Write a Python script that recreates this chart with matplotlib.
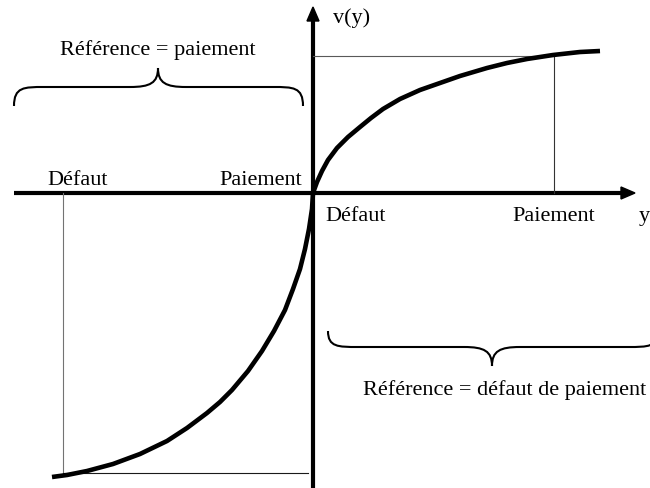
import numpy as np
import matplotlib.pyplot as plt
from matplotlib.path import Path
from matplotlib.patches import PathPatch, Polygon

plt.rcParams['font.family'] = ['Liberation Serif', 'DejaVu Serif']

courbe_y = [-261, -246, -226, -200, -173, -146, -126, -106, -93, -81, -65, -51,
            -39, -28, -20, -13, -8, -4, -1, 0,
            4, 9, 15, 24, 35, 47, 58, 70, 87, 107, 127, 147, 174, 194, 214,
            240, 267, 287]
courbe_v = [-284, -282, -278, -271, -261, -248, -235, -220, -209, -197, -178, -158,
            -138, -117, -96, -76, -56, -36, -16, 0,
            11, 22, 33, 45, 56, 66, 75, 84, 94, 103, 110, 117, 125, 130, 134,
            138, 141, 142]

# points de reference (paiement / defaut)
paiement_y, paiement_v = 241, 137
defaut_y, defaut_v = -250, -280

etiquettes_haut = ['Défaut', 'Paiement']
etiquettes_bas = ['Défaut', 'Paiement']
accolades = ['Référence = paiement', 'Référence = défaut de paiement']

fig = plt.figure(figsize=(6.5, 4.89), dpi=100)
ax = fig.add_axes([0, 0, 1, 1])
ax.set_xlim(-313, 337)
ax.set_ylim(-295, 194)
ax.axis('off')

# axes avec fleches
ax.plot([-299, 310], [0, 0], color='black', lw=3, solid_capstyle='butt')
ax.add_patch(Polygon([[322, 0], [308, 6], [308, -6]], closed=True, color='black'))
ax.plot([0, 0], [-295, 174], color='black', lw=3, solid_capstyle='butt')
ax.add_patch(Polygon([[0, 186], [-6, 172], [6, 172]], closed=True, color='black'))

# lignes fines
ax.plot([0, paiement_y], [paiement_v, paiement_v], color='0.35', lw=0.8)
ax.plot([paiement_y, paiement_y], [0, paiement_v], color='0.2', lw=0.8)
ax.plot([defaut_y, defaut_y], [0, defaut_v], color='0.45', lw=0.8)
ax.plot([defaut_y, -5], [defaut_v, defaut_v], color='0.1', lw=0.8)

# courbe v(y)
ax.plot(courbe_y, courbe_v, color='black', lw=3.3, solid_capstyle='butt',
        solid_joinstyle='round')


def accolade(x0, x1, xc, bras, milieu, pointe):
    s = 1 if pointe > milieu else -1
    verts = [(x0, bras), (x0, milieu), (x0 + 10, milieu), (x0 + 30, milieu),
             (xc - 28, milieu),
             (xc - 8, milieu), (xc, milieu + s * 4), (xc, pointe),
             (xc, milieu + s * 4), (xc + 8, milieu), (xc + 28, milieu),
             (x1 - 30, milieu),
             (x1 - 10, milieu), (x1, milieu), (x1, bras)]
    codes = [Path.MOVETO, Path.CURVE4, Path.CURVE4, Path.CURVE4,
             Path.LINETO,
             Path.CURVE4, Path.CURVE4, Path.CURVE4,
             Path.CURVE4, Path.CURVE4, Path.CURVE4,
             Path.LINETO,
             Path.CURVE4, Path.CURVE4, Path.CURVE4]
    ax.add_patch(PathPatch(Path(verts, codes), fill=False, lw=1.5, color='black'))


accolade(-299, -10, -155, 87, 106, 125)
accolade(15, 345, 179, -138, -154, -173)

fs = 16
ax.text(-155, 139, accolades[0], fontsize=fs, ha='center', va='baseline')
ax.text(192, -201, accolades[1], fontsize=fs, ha='center', va='baseline')

ax.text(-266, 9, etiquettes_haut[0], fontsize=fs, ha='left', va='baseline')
ax.text(-11, 9, etiquettes_haut[1], fontsize=fs, ha='right', va='baseline')
ax.text(12, -27, etiquettes_bas[0], fontsize=fs, ha='left', va='baseline')
ax.text(199, -27, etiquettes_bas[1], fontsize=fs, ha='left', va='baseline')
ax.text(331, -27, 'y', fontsize=fs, ha='center', va='baseline')
ax.text(20, 171, 'v(y)', fontsize=fs, ha='left', va='baseline')

fig.savefig('out.png', dpi=100)
